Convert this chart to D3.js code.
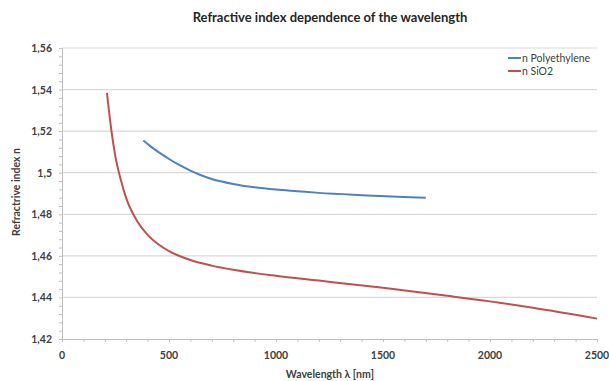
<!DOCTYPE html>
<html>
<head>
<meta charset="utf-8">
<script src="https://cdn.jsdelivr.net/npm/d3@7"></script>
<style>
  body { margin: 0; background: #fff; }
  text { font-family: Lato, "Open Sans", sans-serif; fill: #404040; }
</style>
</head>
<body>
<script>
// wavelength in nm, refractive index
const peWavelength = [380, 420, 460, 500, 550, 600, 650, 700, 800, 900, 1000, 1100, 1200, 1400, 1600, 1700];
const peIndex = [1.5155, 1.5122, 1.5093, 1.5066, 1.5036, 1.5010, 1.4988, 1.4970, 1.4946, 1.4930, 1.4919, 1.4911, 1.4903, 1.4892, 1.4883, 1.4879];

const sioWavelength = [210, 230, 250, 275, 300, 350, 400, 450, 500, 600, 700, 800, 1000, 1200, 1500, 1800, 2000, 2200, 2500];
const sioIndex = [1.5384, 1.5210, 1.5075, 1.4965, 1.4878, 1.4769, 1.4701, 1.4656, 1.4623, 1.4580, 1.4553, 1.4533, 1.4504, 1.4481, 1.4446, 1.4408, 1.4381, 1.4350, 1.4298];

const xTicks = [0, 500, 1000, 1500, 2000, 2500];
const yTicks = [1.42, 1.44, 1.46, 1.48, 1.5, 1.52, 1.54, 1.56];
const seriesNames = ["n Polyethylene", "n SiO2"];
const seriesColors = ["#4f81bd", "#c0504d"];

const width = 609, height = 381;
const margin = { left: 62, right: 12, top: 48, bottom: 42 };

const svg = d3.select("body").append("svg")
  .attr("width", width)
  .attr("height", height);

const x = d3.scaleLinear().domain([0, 2500]).range([margin.left, width - margin.right]);
const y = d3.scaleLinear().domain([1.42, 1.56]).range([height - margin.bottom, margin.top]);

// gridlines
svg.append("g")
  .selectAll("line")
  .data(yTicks.slice(1))
  .join("line")
  .attr("x1", x(0)).attr("x2", x(2500))
  .attr("y1", d => y(d)).attr("y2", d => y(d))
  .attr("stroke", "#d9d9d9")
  .attr("stroke-width", 1.2);

// y axis with minor ticks
const fmt = d => d3.format(".2~f")(d).replace(".", ",");
const yAxis = svg.append("g")
  .attr("transform", `translate(${x(0)},0)`)
  .call(d3.axisLeft(y).tickValues(d3.range(1.42, 1.5601, 0.004)).tickSize(3).tickFormat(""));
yAxis.select(".domain").attr("stroke", "#bfbfbf");
yAxis.selectAll(".tick line").attr("stroke", "#bfbfbf");

svg.append("g")
  .selectAll("text")
  .data(yTicks)
  .join("text")
  .attr("x", x(0) - 10)
  .attr("y", d => y(d) + 4)
  .attr("text-anchor", "end")
  .attr("font-size", 10.5)
  .attr("font-weight", "bold")
  .text(fmt);

// x axis
const xAxis = svg.append("g")
  .attr("transform", `translate(0,${y(1.42)})`)
  .call(d3.axisBottom(x).tickValues(d3.range(0, 2501, 100)).tickSize(3).tickFormat(""));
xAxis.select(".domain").attr("stroke", "#bfbfbf");
xAxis.selectAll(".tick line").attr("stroke", "#bfbfbf");

svg.append("g")
  .selectAll("text")
  .data(xTicks)
  .join("text")
  .attr("x", d => x(d))
  .attr("y", y(1.42) + 20)
  .attr("text-anchor", "middle")
  .attr("font-size", 10.5)
  .attr("font-weight", "bold")
  .text(d => d);

// lines
const line = d3.line().x(d => x(d[0])).y(d => y(d[1])).curve(d3.curveMonotoneX);
const series = [
  d3.zip(peWavelength, peIndex),
  d3.zip(sioWavelength, sioIndex)
];
svg.append("g")
  .selectAll("path")
  .data(series)
  .join("path")
  .attr("d", line)
  .attr("fill", "none")
  .attr("stroke", (d, i) => seriesColors[i])
  .attr("stroke-width", 2);

// title and axis labels
svg.append("text")
  .attr("x", 330).attr("y", 22)
  .attr("text-anchor", "middle")
  .attr("font-size", 13)
  .attr("font-weight", "bold")
  .style("fill", "#262626")
  .text("Refractive index dependence of the wavelength");

svg.append("text")
  .attr("x", 330).attr("y", 378)
  .attr("text-anchor", "middle")
  .attr("font-size", 10.5)
  .attr("font-weight", "bold")
  .text("Wavelength λ [nm]");

svg.append("text")
  .attr("transform", "translate(20,192) rotate(-90)")
  .attr("text-anchor", "middle")
  .attr("font-size", 10.5)
  .attr("font-weight", "bold")
  .text("Refractrive index n");

// legend
const legend = svg.append("g")
  .selectAll("g")
  .data(seriesNames)
  .join("g")
  .attr("transform", (d, i) => `translate(508,${58 + i * 13})`);
legend.append("line")
  .attr("x1", 0).attr("x2", 13)
  .attr("stroke", (d, i) => seriesColors[i])
  .attr("stroke-width", 2);
legend.append("text")
  .attr("x", 14).attr("y", 3.5)
  .attr("font-size", 10.5)
  .text(d => d);
</script>
</body>
</html>
